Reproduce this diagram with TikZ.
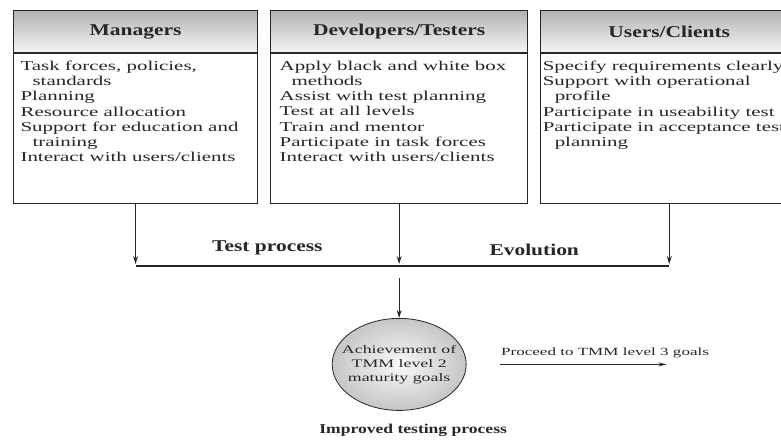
\documentclass[tikz,border=0pt]{standalone}
\usepackage{fontspec}
\setmainfont{Liberation Serif}[FakeStretch=1.55]
\newfontfamily\headfont{Liberation Serif}[FakeStretch=1.3]
\usepackage{tikz}
\usetikzlibrary{shapes.geometric, arrows.meta, positioning, shadings}

\newcommand{\ind}{\hspace*{12pt}}

\begin{document}
\begin{tikzpicture}[x=1pt, y=1pt, line width=1.1pt, color=black!85,
    font=\fontsize{13.5}{15.3}\selectfont, node distance=12pt,
    headbox/.style={draw, top color=gray!60, bottom color=gray!8, minimum height=42pt,
      inner sep=0pt, font=\headfont\fontsize{16.5}{18}\selectfont\bfseries},
    bodybox/.style={draw, fill=white, minimum height=150pt, inner sep=0pt},
    bodytext/.style={anchor=north west, align=left, inner sep=0pt},
    lbl/.style={inner sep=0pt, font=\headfont\fontsize{16.5}{18}\selectfont\bfseries}]
        \useasboundingbox (0,0) rectangle (781,-442);

        \node[headbox, minimum width=244pt, anchor=north west] at (13,-10) (mgr) {Managers};
        \node[headbox, minimum width=257pt, right=12pt of mgr] (dev) {Developers/Testers};
        \node[headbox, minimum width=257pt, right=12pt of dev] (usr) {Users/Clients};

        \node[bodybox, minimum width=244pt, below=0pt of mgr] (mgrbody) {};
        \node[bodybox, minimum width=257pt, below=0pt of dev] (devbody) {};
        \node[bodybox, minimum width=257pt, below=0pt of usr] (usrbody) {};

        \node[bodytext, below right=7pt and 7pt of mgrbody.north west] (mgrtxt)
          {Task forces, policies,\\\ind standards\\Planning\\Resource allocation\\
           Support for education and\\\ind training\\Interact with users/clients};
        \node[bodytext, below right=7pt and 9pt of devbody.north west] (devtxt)
          {Apply black and white box\\\ind methods\\Assist with test planning\\
           Test at all levels\\Train and mentor\\Participate in task forces\\
           Interact with users/clients};
        \node[bodytext, below right=7pt and 2pt of usrbody.north west] (usrtxt)
          {Specify requirements clearly\\Support with operational\\\ind profile\\
           Participate in useability test\\Participate in acceptance test\\\ind planning};

        % collecting line
        \coordinate (busL) at (mgrbody.south |- 0,-266);
        \coordinate (busM) at (devbody.south |- 0,-266);
        \coordinate (busR) at (usrbody.south |- 0,-266);
        \foreach \b in {mgrbody, devbody, usrbody}
          \draw[-{Stealth[length=8pt, width=5pt]}, shorten >=2pt] (\b) -- (\b.south |- busM);
        \draw (busL) -- node[lbl, above=10pt] (tp) {Test process} (busM)
              -- node[lbl, above=10pt] (ev) {Evolution} (busR);

        \coordinate (busout) at ([yshift=-12pt]busM);
        \node[ellipse, draw, line width=0.8pt, inner color=gray!5, outer color=gray!45,
              minimum width=134pt, minimum height=92pt, inner xsep=-14pt, inner ysep=0pt,
              align=center, font=\fontsize{11.5}{14}\selectfont, below=40pt of busout]
          (goal) {Achievement of\\TMM level 2\\maturity goals};
        \draw[-{Stealth[length=8pt, width=5pt]}] (busout) -- (goal);

        \coordinate[right=33pt of goal.east] (nxt);
        \coordinate[right=167pt of nxt] (nxtend);
        \draw[-{Stealth[length=8pt, width=4pt]}] (nxt) -- (nxtend);
        \node[above right=6pt and 1pt of nxt, anchor=south west, inner sep=0pt,
              font=\fontsize{11}{13}\selectfont] (nxttxt) {Proceed to TMM level 3 goals};

        \node[below=13pt of goal, xshift=14pt, inner sep=0pt,
              font=\headfont\fontsize{13.5}{15}\selectfont\bfseries]
          (imp) {Improved testing process};
      \end{tikzpicture}
\end{document}
